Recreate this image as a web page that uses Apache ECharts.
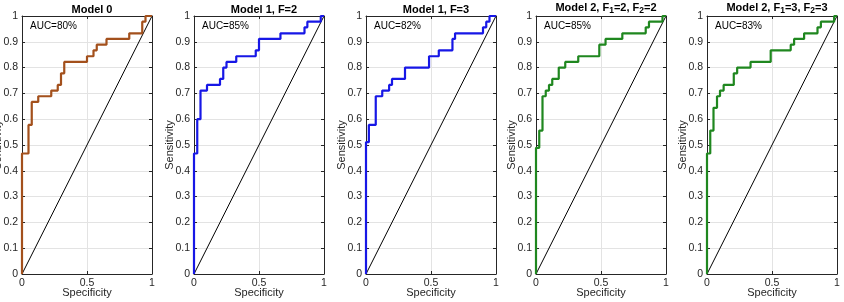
<!DOCTYPE html>
<html>
<head>
<meta charset="utf-8">
<script src="https://cdn.jsdelivr.net/npm/echarts@6/dist/echarts.min.js"></script>
<style>
html,body{margin:0;padding:0;background:#fff;}
#roc{width:844px;height:302px;}
</style>
</head>
<body>
<div id="roc"></div>
<script>
// each curve: x where the rise happens, and the level reached there
var m0_x = [0, 0, 0.05, 0.075, 0.125, 0.225, 0.275, 0.3, 0.325, 0.5, 0.55, 0.575, 0.65, 0.825, 0.925, 0.95, 1];
var m0_y = [0, 0.467, 0.578, 0.667, 0.689, 0.711, 0.733, 0.778, 0.822, 0.844, 0.867, 0.889, 0.911, 0.933, 0.978, 1, 1];

var m1f2_x = [0, 0, 0.025, 0.05, 0.1, 0.2, 0.225, 0.25, 0.325, 0.475, 0.5, 0.665, 0.85, 0.872, 0.975, 1];
var m1f2_y = [0, 0.467, 0.6, 0.711, 0.733, 0.756, 0.8, 0.822, 0.844, 0.867, 0.911, 0.933, 0.956, 0.978, 1, 1];

var m1f3_x = [0, 0, 0.022, 0.075, 0.125, 0.178, 0.2, 0.3, 0.485, 0.56, 0.665, 0.685, 0.9, 0.925, 0.95, 1];
var m1f3_y = [0, 0.511, 0.578, 0.689, 0.711, 0.733, 0.756, 0.8, 0.844, 0.867, 0.911, 0.933, 0.956, 0.978, 1, 1];

var m2a_x = [0, 0, 0.025, 0.05, 0.075, 0.1, 0.125, 0.175, 0.225, 0.325, 0.487, 0.535, 0.664, 0.844, 0.869, 0.973, 1];
var m2a_y = [0, 0.489, 0.556, 0.689, 0.711, 0.733, 0.756, 0.8, 0.822, 0.844, 0.889, 0.911, 0.933, 0.956, 0.978, 1, 1];

var m2b_x = [0, 0, 0.025, 0.05, 0.077, 0.1, 0.128, 0.206, 0.232, 0.335, 0.49, 0.644, 0.67, 0.747, 0.85, 0.876, 0.978, 1];
var m2b_y = [0, 0.467, 0.556, 0.644, 0.689, 0.711, 0.733, 0.778, 0.8, 0.822, 0.867, 0.889, 0.911, 0.933, 0.956, 0.978, 1, 1];

var titles = ['{b|Model 0}', '{b|Model 1, F=2}', '{b|Model 1, F=3}',
              '{b|Model 2, F}{s|1}{b|=2, F}{s|2}{b|=2}', '{b|Model 2, F}{s|1}{b|=3, F}{s|2}{b|=3}'];
var aucs = ['AUC=80%', 'AUC=85%', 'AUC=82%', 'AUC=85%', 'AUC=83%'];
var colors = ['#a3501c', '#1717e6', '#1717e6', '#1f871f', '#1f871f'];
var curvesX = [m0_x, m1f2_x, m1f3_x, m2a_x, m2b_x];
var curvesY = [m0_y, m1f2_y, m1f3_y, m2a_y, m2b_y];
var diag = [0, 1];

var xTicks = [0, 0.5, 1];

var lefts = [22, 194, 366, 536, 707];
var W = 130, TOP = 16, H = 258;
var FONT = '"Liberation Sans", Arial, sans-serif';
var AX = '#262626';

var rocchart = echarts.init(document.getElementById('roc'));
var option = {
    backgroundColor: '#fff',
    animation: false,
    title: [],
    grid: [],
    xAxis: [],
    yAxis: [],
    series: [],
    graphic: []
};

for (var i = 0; i < 5; i++) {
    option.grid.push({left: lefts[i], top: TOP, width: W, height: H, containLabel: false, outerBoundsMode: 'none'});
    option.title.push({
        text: titles[i],
        left: lefts[i] + W / 2,
        top: i < 3 ? -1 : -3,
        textAlign: 'center',
        textStyle: {
            rich: {
                b: {fontFamily: FONT, fontSize: 11, fontWeight: 'bold', color: '#000', lineHeight: 13, verticalAlign: 'top'},
                s: {fontFamily: FONT, fontSize: 8.5, fontWeight: 'bold', color: '#000', lineHeight: 13, verticalAlign: 'bottom'}
            }
        }
    });
    // bottom x axis
    option.xAxis.push({
        type: 'value', gridIndex: i, min: 0, max: 1, interval: 0.5,
        name: 'Specificity', nameLocation: 'middle', nameGap: 13, nameMoveOverlap: false,
        nameTextStyle: {fontFamily: FONT, fontSize: 11, color: AX},
        axisLine: {onZero: false, lineStyle: {color: AX, width: 1}},
        axisTick: {inside: true, length: 3, lineStyle: {color: AX}},
        axisLabel: {fontFamily: FONT, fontSize: 10.5, color: AX, margin: 4,
            formatter: function (v) { return xTicks.indexOf(v) >= 0 ? String(v) : ''; }},
        splitLine: {show: true, lineStyle: {color: '#e3e3e3', width: 1}}
    });
    // top x axis (box)
    option.xAxis.push({
        type: 'value', gridIndex: i, min: 0, max: 1, interval: 0.5, position: 'top',
        axisLine: {onZero: false, lineStyle: {color: AX, width: 1}},
        axisTick: {inside: true, length: 3, lineStyle: {color: AX}},
        axisLabel: {show: false}, splitLine: {show: false}
    });
    // left y axis
    option.yAxis.push({
        type: 'value', gridIndex: i, min: 0, max: 1, interval: 0.1,
        name: 'Sensitivity', nameLocation: 'middle', nameGap: 19, nameMoveOverlap: false,
        nameTextStyle: {fontFamily: FONT, fontSize: 11, color: AX},
        axisLine: {onZero: false, lineStyle: {color: AX, width: 1}},
        axisTick: {inside: true, length: 3, lineStyle: {color: AX}},
        axisLabel: {fontFamily: FONT, fontSize: 10.5, color: AX, margin: 4,
            formatter: function (v) { return String(Math.round(v * 10) / 10); }},
        splitLine: {show: true, lineStyle: {color: '#e3e3e3', width: 1}}
    });
    // right y axis (box)
    option.yAxis.push({
        type: 'value', gridIndex: i, min: 0, max: 1, interval: 0.1, position: 'right',
        axisLine: {onZero: false, lineStyle: {color: AX, width: 1}},
        axisTick: {inside: true, length: 3, lineStyle: {color: AX}},
        axisLabel: {show: false}, splitLine: {show: false}
    });

    // chance line
    option.series.push({
        type: 'line', xAxisIndex: i * 2, yAxisIndex: i * 2, symbol: 'none', silent: true,
        lineStyle: {color: '#000', width: 1},
        data: [[diag[0], diag[0]], [diag[1], diag[1]]]
    });
    // roc curve
    var pts = [];
    for (var k = 0; k < curvesX[i].length; k++) {
        pts.push([curvesX[i][k], curvesY[i][k]]);
    }
    option.series.push({
        type: 'line', xAxisIndex: i * 2, yAxisIndex: i * 2, symbol: 'none', step: 'end',
        clip: false,
        lineStyle: {color: colors[i], width: 2.2},
        data: pts
    });

    option.graphic.push({
        type: 'text', left: lefts[i] + 8, top: 21,
        style: {text: aucs[i], font: '10px ' + FONT, fill: '#000'}
    });
}

rocchart.setOption(option);
</script>
</body>
</html>
